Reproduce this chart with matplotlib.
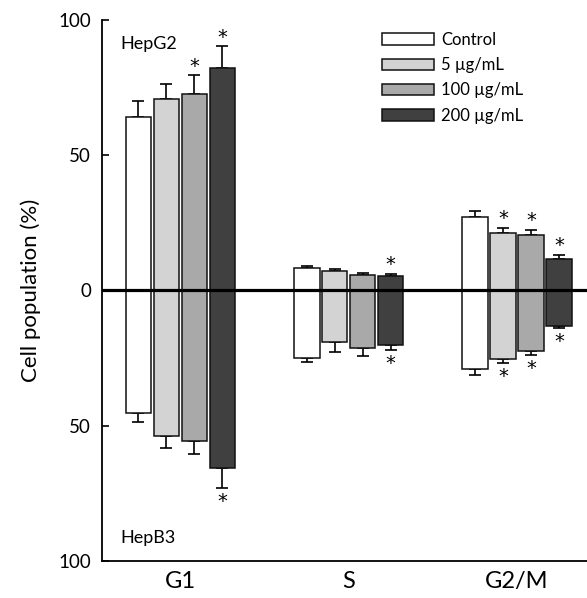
import matplotlib
matplotlib.use("Agg")
import matplotlib.pyplot as plt
import numpy as np

plt.rcParams['font.family'] = ['Lato', 'DejaVu Sans']

categories = ['G1', 'S', 'G2/M']
series = ['Control', '5 µg/mL', '100 µg/mL', '200 µg/mL']
colors = ['#ffffff', '#d3d3d3', '#a9a9a9', '#404040']

# HepG2 (upper half)
hepg2 = [
    [64.0, 8.2, 27.3],
    [70.8, 7.1, 21.3],
    [72.7, 5.9, 20.6],
    [82.4, 5.4, 11.5],
]
hepg2_err = [
    [6.0, 0.8, 2.2],
    [5.7, 0.9, 1.9],
    [6.8, 0.7, 1.8],
    [7.8, 0.7, 1.7],
]
hepg2_sig = [
    [False, False, False],
    [False, False, True],
    [True, False, True],
    [True, True, True],
]
# HepB3 (lower half)
hepb3 = [
    [45.2, 25.0, 28.9],
    [53.8, 19.2, 25.5],
    [55.6, 21.2, 22.2],
    [65.7, 20.2, 13.0],
]
hepb3_err = [
    [3.5, 1.5, 2.5],
    [4.3, 3.7, 1.3],
    [4.7, 3.2, 1.7],
    [7.3, 1.9, 1.0],
]
hepb3_sig = [
    [False, False, False],
    [False, False, True],
    [False, False, True],
    [True, True, True],
]

fig = plt.figure(figsize=(5.87, 5.98), dpi=100)
ax = fig.add_axes([0.1738, 0.0619, 0.8262, 0.9047])

x = np.arange(len(categories))
width = 0.151
step = 0.166
offsets = (np.arange(len(series)) - 1.5) * step

for i, name in enumerate(series):
    xs = x + offsets[i]
    up = np.array(hepg2[i])
    dn = -np.array(hepb3[i])
    ax.bar(xs, up, width, color=colors[i], edgecolor='#111111', linewidth=1.1,
           label=name, zorder=2)
    ax.bar(xs, dn, width, color=colors[i], edgecolor='#111111', linewidth=1.1,
           zorder=2)
    eu = np.array(hepg2_err[i])
    ed = np.array(hepb3_err[i])
    ax.errorbar(xs, up, yerr=[np.zeros_like(eu), eu], fmt='none', ecolor='black',
                elinewidth=1.2, capsize=4.3, capthick=1.2, zorder=1)
    ax.errorbar(xs, dn, yerr=[ed, np.zeros_like(ed)], fmt='none', ecolor='black',
                elinewidth=1.2, capsize=4.3, capthick=1.2, zorder=1)
    for j in range(len(categories)):
        if hepg2_sig[i][j]:
            ax.annotate('*', (xs[j], up[j] + eu[j]), xytext=(0, 6.5),
                        textcoords='offset points', ha='center', va='center',
                        fontsize=14, family='DejaVu Sans', color='black')
        if hepb3_sig[i][j]:
            ax.annotate('*', (xs[j], dn[j] - ed[j]), xytext=(0, -9.5),
                        textcoords='offset points', ha='center', va='center',
                        fontsize=14, family='DejaVu Sans', color='black')

ax.axhline(0, color='black', linewidth=2.3, zorder=5)

ax.set_xlim(-0.465, 2.415)
ax.set_ylim(-100, 100)
ax.set_yticks([-100, -50, 0, 50, 100])
ax.set_yticklabels(['100', '50', '0', '50', '100'], fontsize=13.5)
ax.set_xticks(x)
ax.set_xticklabels(categories, fontsize=17)
ax.tick_params(axis='y', direction='in', length=5, width=1.2, pad=8)
ax.tick_params(axis='x', length=0, pad=7)
for s in ['top', 'right']:
    ax.spines[s].set_visible(False)
for s in ['left', 'bottom']:
    ax.spines[s].set_linewidth(1.3)
ax.set_ylabel('Cell population (%)', fontsize=16, labelpad=12)

ax.text(0.038, 0.955, 'HepG2', transform=ax.transAxes, fontsize=13, va='center')
ax.text(0.038, 0.043, 'HepB3', transform=ax.transAxes, fontsize=13, va='center')

leg = ax.legend(loc='upper left', bbox_to_anchor=(0.564, 0.99), frameon=False,
                fontsize=12, handlelength=3.1, handleheight=0.7,
                labelspacing=0.55, handletextpad=0.45, borderaxespad=0)

fig.savefig('out.png', dpi=100)
